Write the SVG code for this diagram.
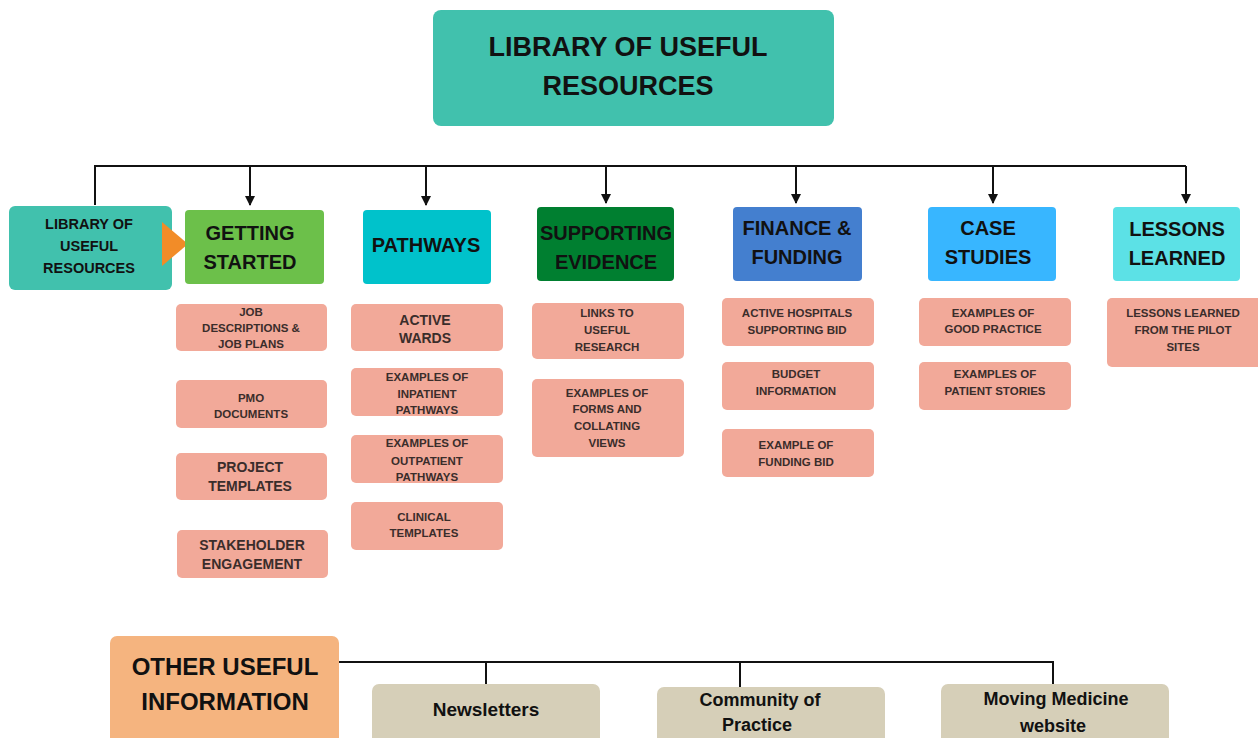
<svg xmlns="http://www.w3.org/2000/svg" width="1258" height="738" viewBox="0 0 1258 738">
<style>
text{font-family:"Liberation Sans",Arial,sans-serif;font-weight:700;text-anchor:middle;fill:#111}
.h{font-size:20px}
.s{font-size:11.5px;fill:#3a2d2b}
.m{font-size:14px;fill:#3a2d2b}
.pink{fill:#F2A999}
.beige{fill:#D6CFB8}
.ln{stroke:#111;stroke-width:2;fill:none}
</style>
<defs>
<marker id="ah" viewBox="0 0 10 10" refX="9" refY="5" markerWidth="5" markerHeight="5" orient="auto"><path d="M0,0 L10,5 L0,10 z" fill="#111"/></marker>
</defs>
<rect width="1258" height="738" fill="#fff"/>
<g id="connectors">
<path class="ln" d="M95,205 V166 H1186"/>
<path class="ln" d="M250,166 V205" marker-end="url(#ah)"/>
<path class="ln" d="M426,166 V205" marker-end="url(#ah)"/>
<path class="ln" d="M606,166 V203" marker-end="url(#ah)"/>
<path class="ln" d="M796,166 V203" marker-end="url(#ah)"/>
<path class="ln" d="M993,166 V203" marker-end="url(#ah)"/>
<path class="ln" d="M1186,166 V203" marker-end="url(#ah)"/>
<path class="ln" d="M339,662 H1053 V684"/>
<path class="ln" d="M486,662 V684"/>
<path class="ln" d="M740,662 V687"/>
</g>
<g id="title">
<rect x="433" y="10" width="401" height="116" rx="8" fill="#41C1AD"/>
<text x="628" y="56" font-size="27">LIBRARY OF USEFUL</text>
<text x="628" y="95" font-size="27">RESOURCES</text>
</g>
<g id="lib-left">
<rect x="9" y="206" width="163" height="84" rx="6" fill="#41C1AD"/>
<text x="89" y="229" font-size="14.5">LIBRARY OF</text>
<text x="89" y="251" font-size="14.5">USEFUL</text>
<text x="89" y="273" font-size="14.5">RESOURCES</text>
<path d="M162,222 L188,244 L162,266 z" fill="#F28C28"/>
</g>
<g id="getting-started">
<rect x="185" y="210" width="139" height="74" rx="4" fill="#6CC04A"/>
<text class="h" x="250" y="240">GETTING</text>
<text class="h" x="250" y="269">STARTED</text>
</g>
<g id="pathways">
<rect x="363" y="210" width="128" height="74" rx="4" fill="#00C2CB"/>
<text class="h" x="426" y="252">PATHWAYS</text>
</g>
<g id="supporting-evidence">
<rect x="537" y="207" width="137" height="74" rx="4" fill="#007F30"/>
<text class="h" x="606" y="240">SUPPORTING</text>
<text class="h" x="606" y="269">EVIDENCE</text>
</g>
<g id="finance">
<rect x="733" y="207" width="129" height="74" rx="4" fill="#447FCF"/>
<text class="h" x="797" y="235">FINANCE &amp;</text>
<text class="h" x="797" y="264">FUNDING</text>
</g>
<g id="case-studies">
<rect x="928" y="207" width="128" height="74" rx="4" fill="#38B6FF"/>
<text class="h" x="988" y="235">CASE</text>
<text class="h" x="988" y="264">STUDIES</text>
</g>
<g id="lessons">
<rect x="1113" y="207" width="127" height="74" rx="4" fill="#5CE1E6"/>
<text class="h" x="1177" y="236">LESSONS</text>
<text class="h" x="1177" y="265">LEARNED</text>
</g>
<g id="gs-1"><rect class="pink" x="176" y="304" width="151" height="47" rx="5"/>
<text class="s" x="251" y="316">JOB</text><text class="s" x="251" y="332">DESCRIPTIONS &amp;</text><text class="s" x="251" y="348">JOB PLANS</text></g>
<g id="gs-2"><rect class="pink" x="176" y="380" width="151" height="48" rx="5"/>
<text class="s" x="251" y="402">PMO</text><text class="s" x="251" y="418">DOCUMENTS</text></g>
<g id="gs-3"><rect class="pink" x="176" y="453" width="151" height="47" rx="5"/>
<text class="m" x="250" y="472">PROJECT</text><text class="m" x="250" y="491">TEMPLATES</text></g>
<g id="gs-4"><rect class="pink" x="177" y="530" width="151" height="48" rx="5"/>
<text class="m" x="252" y="550">STAKEHOLDER</text><text class="m" x="252" y="569">ENGAGEMENT</text></g>
<g id="pw-1"><rect class="pink" x="351" y="304" width="152" height="47" rx="5"/>
<text class="m" x="425" y="325">ACTIVE</text><text class="m" x="425" y="343">WARDS</text></g>
<g id="pw-2"><rect class="pink" x="351" y="368" width="152" height="48" rx="5"/>
<text class="s" x="427" y="381">EXAMPLES OF</text><text class="s" x="427" y="398">INPATIENT</text><text class="s" x="427" y="414">PATHWAYS</text></g>
<g id="pw-3"><rect class="pink" x="351" y="435" width="152" height="48" rx="5"/>
<text class="s" x="427" y="447">EXAMPLES OF</text><text class="s" x="427" y="465">OUTPATIENT</text><text class="s" x="427" y="481">PATHWAYS</text></g>
<g id="pw-4"><rect class="pink" x="351" y="502" width="152" height="48" rx="5"/>
<text class="s" x="424" y="521">CLINICAL</text><text class="s" x="424" y="537">TEMPLATES</text></g>
<g id="se-1"><rect class="pink" x="532" y="303" width="152" height="56" rx="5"/>
<text class="s" x="607" y="317">LINKS TO</text><text class="s" x="607" y="334">USEFUL</text><text class="s" x="607" y="351">RESEARCH</text></g>
<g id="se-2"><rect class="pink" x="532" y="379" width="152" height="78" rx="5"/>
<text class="s" x="607" y="397">EXAMPLES OF</text><text class="s" x="607" y="413">FORMS AND</text><text class="s" x="607" y="430">COLLATING</text><text class="s" x="607" y="447">VIEWS</text></g>
<g id="ff-1"><rect class="pink" x="722" y="298" width="152" height="48" rx="5"/>
<text class="s" x="797" y="317">ACTIVE HOSPITALS</text><text class="s" x="797" y="334">SUPPORTING BID</text></g>
<g id="ff-2"><rect class="pink" x="722" y="362" width="152" height="48" rx="5"/>
<text class="s" x="796" y="378">BUDGET</text><text class="s" x="796" y="395">INFORMATION</text></g>
<g id="ff-3"><rect class="pink" x="722" y="429" width="152" height="48" rx="5"/>
<text class="s" x="796" y="449">EXAMPLE OF</text><text class="s" x="796" y="466">FUNDING BID</text></g>
<g id="cs-1"><rect class="pink" x="919" y="298" width="152" height="48" rx="5"/>
<text class="s" x="993" y="317">EXAMPLES OF</text><text class="s" x="993" y="333">GOOD PRACTICE</text></g>
<g id="cs-2"><rect class="pink" x="919" y="362" width="152" height="48" rx="5"/>
<text class="s" x="995" y="378">EXAMPLES OF</text><text class="s" x="995" y="395">PATIENT STORIES</text></g>
<g id="ll-1"><rect class="pink" x="1107" y="298" width="156" height="69" rx="5"/>
<text class="s" x="1183" y="317">LESSONS LEARNED</text><text class="s" x="1183" y="334">FROM THE PILOT</text><text class="s" x="1183" y="351">SITES</text></g>
<g id="other">
<rect x="110" y="636" width="229" height="110" rx="7" fill="#F5B47F"/>
<text x="225" y="675" font-size="24">OTHER USEFUL</text>
<text x="225" y="710" font-size="24">INFORMATION</text>
</g>
<g id="newsletters"><rect class="beige" x="372" y="684" width="228" height="64" rx="7"/>
<text x="486" y="716" font-size="19">Newsletters</text></g>
<g id="community"><rect class="beige" x="657" y="687" width="228" height="61" rx="7"/>
<text x="760" y="706" font-size="18">Community of</text><text x="757" y="731" font-size="18">Practice</text></g>
<g id="moving"><rect class="beige" x="941" y="684" width="228" height="64" rx="7"/>
<text x="1056" y="705" font-size="18">Moving Medicine</text><text x="1053" y="732" font-size="18">website</text></g>
</svg>
